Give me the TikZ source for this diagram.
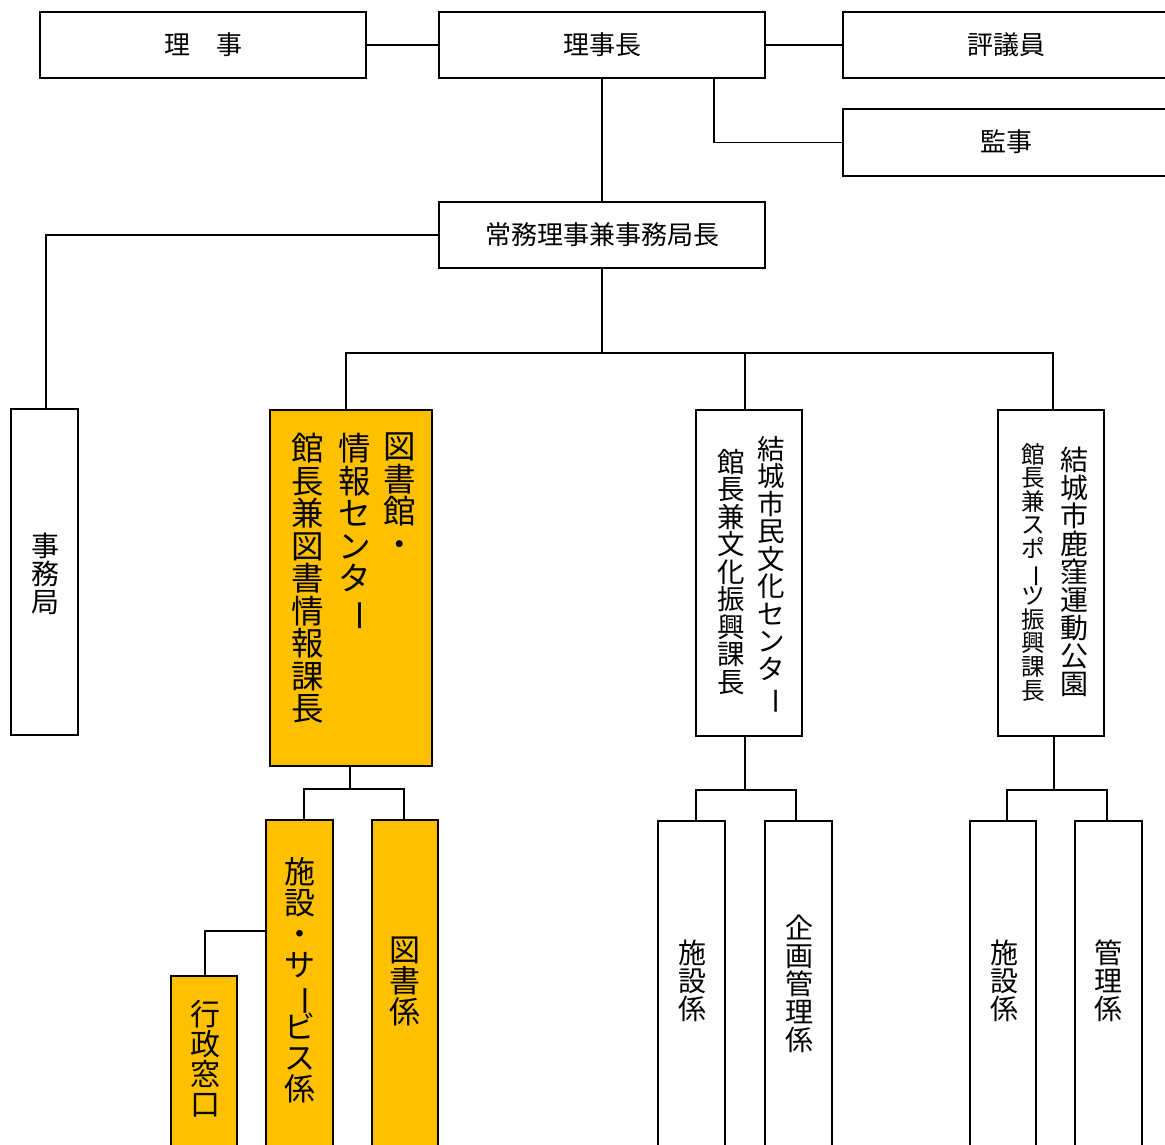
\documentclass[tikz,border=0pt]{standalone}
\usepackage{fontspec}
\usepackage{graphicx}
\newfontfamily\jp{Noto Sans CJK JP}
\definecolor{gold}{HTML}{FFC000}
\newcommand\chou{\rotatebox[origin=c]{-90}{ー}}
\tikzset{
  orgbox/.style={draw=black, line width=1.8pt, rectangle, inner sep=0pt},
  conn/.style={line width=1.7pt},
  vt/.style={anchor=north, align=center, inner sep=0pt,
    font=\jp\fontsize{#1}{#1}\selectfont},
  ht/.style={font=\jp\fontsize{#1}{#1}\selectfont, inner sep=0pt}
}
\lineskiplimit=-30pt
\lineskip=0pt
\begin{document}
\lineskiplimit=-30pt
\lineskip=0pt
\begin{tikzpicture}[x=1pt,y=-1pt]
\useasboundingbox (0,0) rectangle (1165,1144);
\clip (0,0) rectangle (1165,1144);
% boxes
\node[orgbox, minimum width=326pt, minimum height=66pt] (rij) at (203,45) {};
\node[orgbox, minimum width=326pt, minimum height=66pt] (rijicho) at (602,45) {};
\node[orgbox, minimum width=332pt, minimum height=66pt] (hyogi) at (1009,45) {};
\node[orgbox, minimum width=332pt, minimum height=67pt] (kanji) at (1009,142.5) {};
\node[orgbox, minimum width=326pt, minimum height=66pt] (jomu) at (602,235) {};
\node[orgbox, minimum width=67pt, minimum height=326pt] (jimu) at (44.5,572) {};
\node[orgbox, fill=gold, minimum width=162pt, minimum height=356pt] (tosho) at (351,588) {};
\node[orgbox, minimum width=106pt, minimum height=326pt] (bunka) at (749,573) {};
\node[orgbox, minimum width=106pt, minimum height=326pt] (kakubo) at (1051,573) {};
\node[orgbox, fill=gold, minimum width=67pt, minimum height=340pt] (svc) at (299.5,990) {};
\node[orgbox, fill=gold, minimum width=66pt, minimum height=340pt] (tgk) at (405,990) {};
\node[orgbox, fill=gold, minimum width=66pt, minimum height=184pt] (gyosei) at (204,1068) {};
\node[orgbox, minimum width=67pt, minimum height=339pt] (bshi) at (691.5,990.5) {};
\node[orgbox, minimum width=67pt, minimum height=339pt] (kikaku) at (798.5,990.5) {};
\node[orgbox, minimum width=66pt, minimum height=339pt] (kshi) at (1003,990.5) {};
\node[orgbox, minimum width=67pt, minimum height=339pt] (kanri) at (1108.5,990.5) {};
% coordinates
\coordinate (k1) at (714,78);
\coordinate (bus) at (602,353);
\coordinate (tTop) at (346,410);
\coordinate (bTop) at (745,410);
\coordinate (kTop) at (1053,410);
\coordinate (tBot) at (350,766);
\coordinate (tMid) at (350,789);
\coordinate (sTop) at (304,820);
\coordinate (gTop) at (404,820);
\coordinate (bBot) at (745,736);
\coordinate (bMid) at (745,790);
\coordinate (b1Top) at (696,821);
\coordinate (b2Top) at (796,821);
\coordinate (kBot) at (1054,736);
\coordinate (kMid) at (1054,790);
\coordinate (k1Top) at (1007,821);
\coordinate (k2Top) at (1107,821);
\coordinate (sLeft) at (266,931);
\coordinate (gyTop) at (205,976);
\coordinate (jTop) at (46,409);
% connectors
\draw[conn] (rij.east) -- (rijicho.west);
\draw[conn] (rijicho.east) -- (hyogi.west);
\draw[conn] (k1) |- (kanji.west);
\draw[conn] (rijicho.south) -- (jomu.north);
\draw[conn] (jomu.west) -| (jTop);
\draw[conn] (jomu.south) -- (bus);
\draw[conn] (tTop) |- (bus) -| (kTop);
\draw[conn] (bTop) -- (bTop |- bus);
\draw[conn] (tBot) -- (tMid);
\draw[conn] (sTop) |- (tMid) -| (gTop);
\draw[conn] (bBot) -- (bMid);
\draw[conn] (b1Top) |- (bMid) -| (b2Top);
\draw[conn] (kBot) -- (kMid);
\draw[conn] (k1Top) |- (kMid) -| (k2Top);
\draw[conn] (sLeft) -| (gyTop);
% horizontal texts
\node[ht=26] (trij) at (rij) {理　事};
\node[ht=26] (trijicho) at (rijicho) {理事長};
\node[ht=26] (thyogi) at (1006,45) {評議員};
\node[ht=26] (tkanji) at (1006,142) {監事};
\node[ht=26] (tjomu) at (jomu) {常務理事兼事務局長};
% vertical texts
\node[vt=28] (tjimu) at (45,533) {事\\務\\局};
\node[vt=32.5] (tt1) at (400,433) {図\\書\\館\\・};
\node[vt=32.5] (tt2) at (355,433) {情\\報\\セ\\ン\\タ\\\chou};
\node[vt=32.5] (tt3) at (308,433) {館\\長\\兼\\図\\書\\情\\報\\課\\長};
\node[vt=27.5] (tb1) at (771,436) {結\\城\\市\\民\\文\\化\\セ\\ン\\タ\\\chou};
\node[vt=27.5] (tb2) at (731,449) {館\\長\\兼\\文\\化\\振\\興\\課\\長};
\node[vt=28] (tk1) at (1074,447) {結\\城\\市\\鹿\\窪\\運\\動\\公\\園};
\node[vt=23.6] (tk2) at (1033,443) {館\\長\\兼\\ス\\ポ\\\chou\\ツ\\振\\興\\課\\長};
\node[vt=31] (tsvc) at (300,857) {施\\設\\・\\サ\\\chou\\ビ\\ス\\係};
\node[vt=31] (ttgk) at (405,937) {図\\書\\係};
\node[vt=30] (tgy) at (205,1000) {行\\政\\窓\\口};
\node[vt=28] (tbs) at (692,940) {施\\設\\係};
\node[vt=28] (tkk) at (799,915) {企\\画\\管\\理\\係};
\node[vt=28] (tks) at (1004,940) {施\\設\\係};
\node[vt=28] (tkr) at (1108,940) {管\\理\\係};
\end{tikzpicture}
\end{document}
